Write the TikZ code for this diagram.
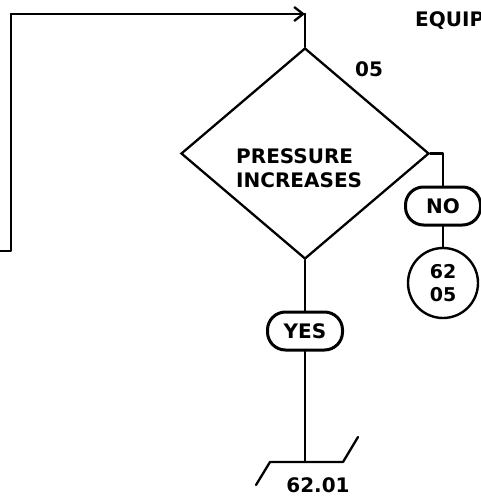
\documentclass[tikz,border=0pt]{standalone}
\usepackage{fontspec}
\setmainfont{DejaVu Sans}
\usetikzlibrary{shapes.geometric,arrows.meta}
\begin{document}
\begin{tikzpicture}[x=1pt,y=-1pt,
  line/.style={line width=2.3pt,line cap=round,line join=round},
  lbl/.style={font=\fontsize{20}{24}\selectfont\bfseries,inner sep=0pt},
  pill/.style={draw,line width=3pt,rounded corners=18pt,minimum width=75pt,minimum height=38pt,inner sep=0pt,font=\fontsize{20}{24}\selectfont\bfseries},
  conn/.style={draw,circle,line width=2.4pt,minimum size=70pt,inner sep=0pt,align=center,font=\fontsize{19}{23}\selectfont\bfseries}]
\useasboundingbox (0,0) rectangle (480,497);
\node[draw,diamond,line width=2.3pt,minimum width=248pt,minimum height=211pt,inner sep=0pt] (dec) at (305,153.5) {};
\node[lbl,align=left,anchor=west] (dtext) at (236,168) {PRESSURE\\ INCREASES};
\node[lbl] (num) at (369,69) {05};
\node[lbl,anchor=west] (eq) at (415,21) {EQUIP};
\node[pill] (no) at (443,206) {NO};
\node[conn] (c) at (443,283) {62\\05};
\node[pill] (yes) at (305,331) {YES};
\coordinate (in) at (0,251);
\coordinate (lc) at (11,251);
\coordinate (tl) at (11,14);
\coordinate (tr) at (305,14);
\coordinate (rc) at (443,153.5);
\coordinate (out) at (305,462);
\coordinate (o1) at (256,485);
\coordinate (o2) at (270,462);
\coordinate (o3) at (343,462);
\coordinate (o4) at (358,437);
\node[lbl] (otext) at (318,485) {62.01};
\draw[line] (in) -- (lc) -- (tl) -- (tr);
\draw[line,-{Straight Barb[length=9pt,width=14pt,line width=2.3pt]}] (tl) -- (tr);
\draw[line] (tr) -- (dec.north);
\draw[line] (dec.east) -- (rc) -- (no.north);
\draw[line] (no.south) -- (c.north);
\draw[line] (dec.south) -- (yes.north);
\draw[line] (yes.south) -- (out);
\draw[line] (o1) -- (o2) -- (o3) -- (o4);
\end{tikzpicture}
\end{document}
